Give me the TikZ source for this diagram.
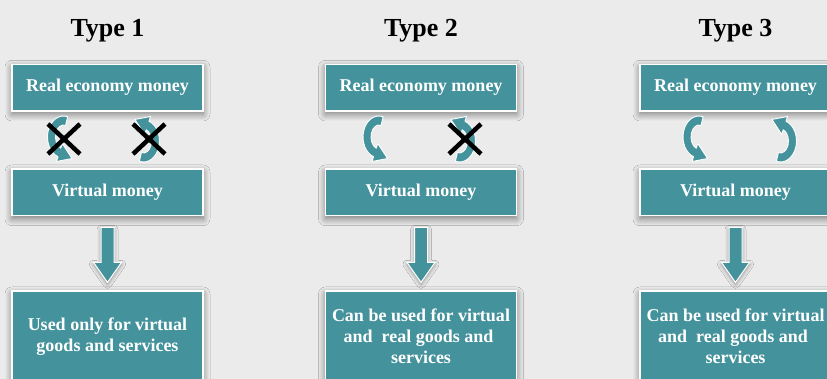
\documentclass[tikz,border=0pt]{standalone}
\usepackage{fontspec}
\setmainfont{Liberation Serif}
\usetikzlibrary{calc,shadows.blur}
\definecolor{bg}{RGB}{235,235,235}
\definecolor{boxteal}{RGB}{68,146,156}
\tikzset{
  box/.style={draw=white, line width=1.2pt, fill=boxteal, text=white,
    minimum width=191pt, inner sep=0pt, align=center,
    font=\bfseries\fontsize{18}{21}\selectfont,
    blur shadow={shadow xshift=0pt, shadow yshift=-3pt, shadow blur radius=7pt, shadow opacity=50, shadow blur steps=12}},
  title/.style={font=\bfseries\fontsize{26}{30}\selectfont, anchor=base},
  blockarr/.style={draw=white, line width=1pt, fill=boxteal,
    blur shadow={shadow xshift=0pt, shadow yshift=-2pt, shadow blur radius=4pt, shadow opacity=40}},
  curvstyle/.style={draw=white, line width=0.9pt, fill=boxteal, line join=round},
  crossline/.style={draw=black, line width=4.5pt},
  curv/.pic={
    \path[curvstyle] (8.14,22.28)
      arc[start angle=75, end angle=250, x radius=16pt, y radius=21pt]
      -- (-3.01,-22.49) -- (12.52,-19.53) -- (2.80,-4.52) -- (1.26,-9.28)
      arc[start angle=250, end angle=75, x radius=8pt, y radius=12pt]
      -- cycle;
  }
}
\begin{document}
\begin{tikzpicture}[x=1pt, y=1pt]
\useasboundingbox (0,0) rectangle (827,379);
\fill[bg] (0,0) rectangle (827,379);
\clip (0,0) rectangle (827,379);

% titles
\node[title] (t1) at (107.5,342) {Type 1};
\node[title] (t2) at (421,342) {Type 2};
\node[title] (t3) at (735.5,342) {Type 3};

% top boxes
\node[box, minimum height=46.7pt] (r1) at (107.5,291.35) {Real economy money};
\node[box, minimum height=46.7pt] (r2) at (421,291.35) {Real economy money};
\node[box, minimum height=46.7pt] (r3) at (735.5,291.35) {Real economy money};

% virtual boxes
\node[box, minimum height=46.7pt] (v1) at (107.5,186.65) {Virtual money};
\node[box, minimum height=46.7pt] (v2) at (421,186.65) {Virtual money};
\node[box, minimum height=46.7pt] (v3) at (735.5,186.65) {Virtual money};

% bottom boxes
\node[box, minimum height=91pt] (b1) at (107.5,42.5) {Used only for virtual\\goods and services};
\node[box, minimum height=91pt] (b2) at (421,42.5) {Can be used for virtual\\and\ \ real goods and\rule{5pt}{0pt}\\services};
\node[box, minimum height=91pt] (b3) at (735.5,42.5) {Can be used for virtual\\and\ \ real goods and\rule{5pt}{0pt}\\services};

% block arrows
\foreach \b in {b1,b2,b3}{
  \begin{scope}[shift={($(\b.north)+(0,8)$)}]
    \path[blockarr] (0,0) -- (14,20) -- (6.5,20) -- (6.5,55) -- (-6.5,55) -- (-6.5,20) -- (-14,20) -- cycle;
  \end{scope}
}

% curved arrows
\pic at (59.5,240) {curv};
\pic[rotate=180] at (147.5,240) {curv};
\pic at (375,240) {curv};
\pic[rotate=180] at (463.5,240) {curv};
\pic at (695,240) {curv};
\pic[rotate=180] at (784.5,240) {curv};

% crosses
\coordinate (x1) at (64,240);
\coordinate (x2) at (149,240);
\coordinate (x3) at (465,240);
\foreach \c in {x1,x2,x3}{
  \draw[crossline] ($(\c)+(-16,-15)$) -- ($(\c)+(16,15)$);
  \draw[crossline] ($(\c)+(-16,15)$) -- ($(\c)+(16,-15)$);
}
\end{tikzpicture}
\end{document}
